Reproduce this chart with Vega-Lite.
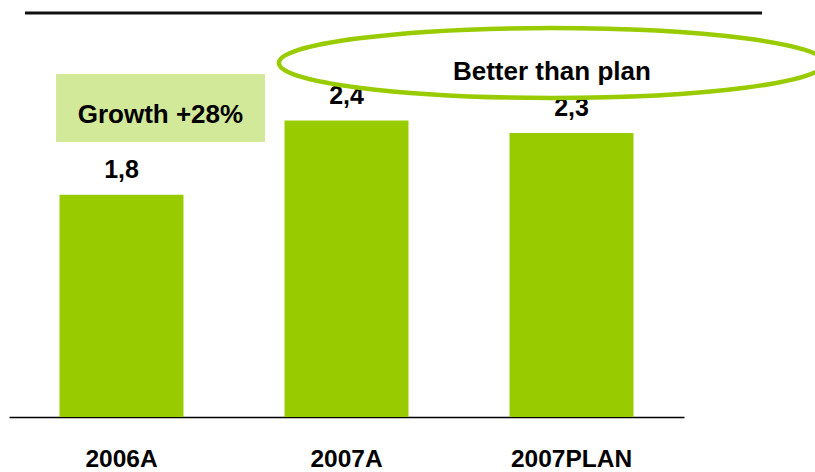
{
  "$schema": "https://vega.github.io/schema/vega-lite/v6.json",
  "width": 815,
  "height": 417,
  "autosize": {"type": "none"},
  "padding": {"left": 0, "top": 0, "right": 0, "bottom": 55},
  "background": "white",
  "config": {"view": {"stroke": null}, "font": "Liberation Sans"},
  "resolve": {"scale": {"x": "independent"}},
  "layer": [
    {
      "data": {
        "values": [
          {"period": "2006A", "value": 1.8, "label": "1,8"},
          {"period": "2007A", "value": 2.4, "label": "2,4"},
          {"period": "2007PLAN", "value": 2.3, "label": "2,3"}
        ]
      },
      "encoding": {
        "x": {
          "field": "period",
          "type": "nominal",
          "sort": null,
          "scale": {"range": [9, 684], "paddingInner": 0.449, "paddingOuter": 0.2245},
          "axis": {
            "title": null,
            "labelAngle": 0,
            "labelFont": "Liberation Sans",
            "labelFontSize": 24.5,
            "labelFontWeight": "bold",
            "labelColor": "black",
            "labelPadding": 30,
            "ticks": false,
            "grid": false,
            "domainColor": "black",
            "domainWidth": 1.5
          }
        },
        "y": {
          "field": "value",
          "type": "quantitative",
          "scale": {"domain": [0, 3.3765], "range": [417, 0], "nice": false, "zero": true},
          "axis": null
        }
      },
      "layer": [
        {"mark": {"type": "bar", "color": "#99cc00"}},
        {
          "mark": {"type": "text", "fontSize": 25, "fontWeight": "bold", "baseline": "alphabetic", "dy": -17, "color": "black"},
          "encoding": {"text": {"field": "label"}}
        }
      ]
    },
    {
      "layer": [
        {
          "data": {"values": [{"note": "Growth +28%"}]},
          "layer": [
            {
              "mark": {"type": "rect", "color": "#d2e99a"},
              "encoding": {
                "x": {"datum": -0.291, "type": "quantitative", "scale": {"domain": [-0.5, 2.5], "range": [9, 684], "zero": false, "nice": false}, "axis": null},
                "x2": {"datum": 0.638},
                "y": {"datum": 2.777, "type": "quantitative", "axis": null},
                "y2": {"datum": 2.227}
              }
            },
            {
              "mark": {"type": "text", "fontSize": 26, "fontWeight": "bold", "baseline": "alphabetic", "align": "center", "color": "black"},
              "encoding": {
                "x": {"datum": 0.173, "type": "quantitative", "scale": {"domain": [-0.5, 2.5], "range": [9, 684], "zero": false, "nice": false}, "axis": null},
                "y": {"datum": 2.378, "type": "quantitative", "axis": null},
                "text": {"field": "note"}
              }
            }
          ]
        },
        {
          "data": {"values": [{"note": "Better than plan"}]},
          "layer": [
            {
              "mark": {"type": "rule", "color": "#111111", "strokeWidth": 3},
              "encoding": {
                "x": {"datum": -0.429, "type": "quantitative", "scale": {"domain": [-0.5, 2.5], "range": [9, 684], "zero": false, "nice": false}, "axis": null},
                "x2": {"datum": 2.847},
                "y": {"datum": 3.271, "type": "quantitative", "axis": null}
              }
            },
            {
              "mark": {
                "type": "point",
                "shape": "M 1 0 C 1 0.0707 0.5523 0.128 0 0.128 C -0.5523 0.128 -1 0.0707 -1 0 C -1 -0.0707 -0.5523 -0.128 0 -0.128 C 0.5523 -0.128 1 -0.0707 1 0 Z",
                "size": 298116,
                "filled": false,
                "stroke": "#99cc00",
                "strokeWidth": 4.5,
                "opacity": 1,
                "strokeOpacity": 1
              },
              "encoding": {
                "x": {"datum": 1.913, "type": "quantitative", "scale": {"domain": [-0.5, 2.5], "range": [9, 684], "zero": false, "nice": false}, "axis": null},
                "y": {"datum": 2.866, "type": "quantitative", "axis": null}
              }
            },
            {
              "mark": {"type": "text", "fontSize": 26, "fontWeight": "bold", "baseline": "alphabetic", "align": "center", "color": "black"},
              "encoding": {
                "x": {"datum": 1.913, "type": "quantitative", "scale": {"domain": [-0.5, 2.5], "range": [9, 684], "zero": false, "nice": false}, "axis": null},
                "y": {"datum": 2.729, "type": "quantitative", "axis": null},
                "text": {"field": "note"}
              }
            }
          ]
        }
      ]
    }
  ]
}
